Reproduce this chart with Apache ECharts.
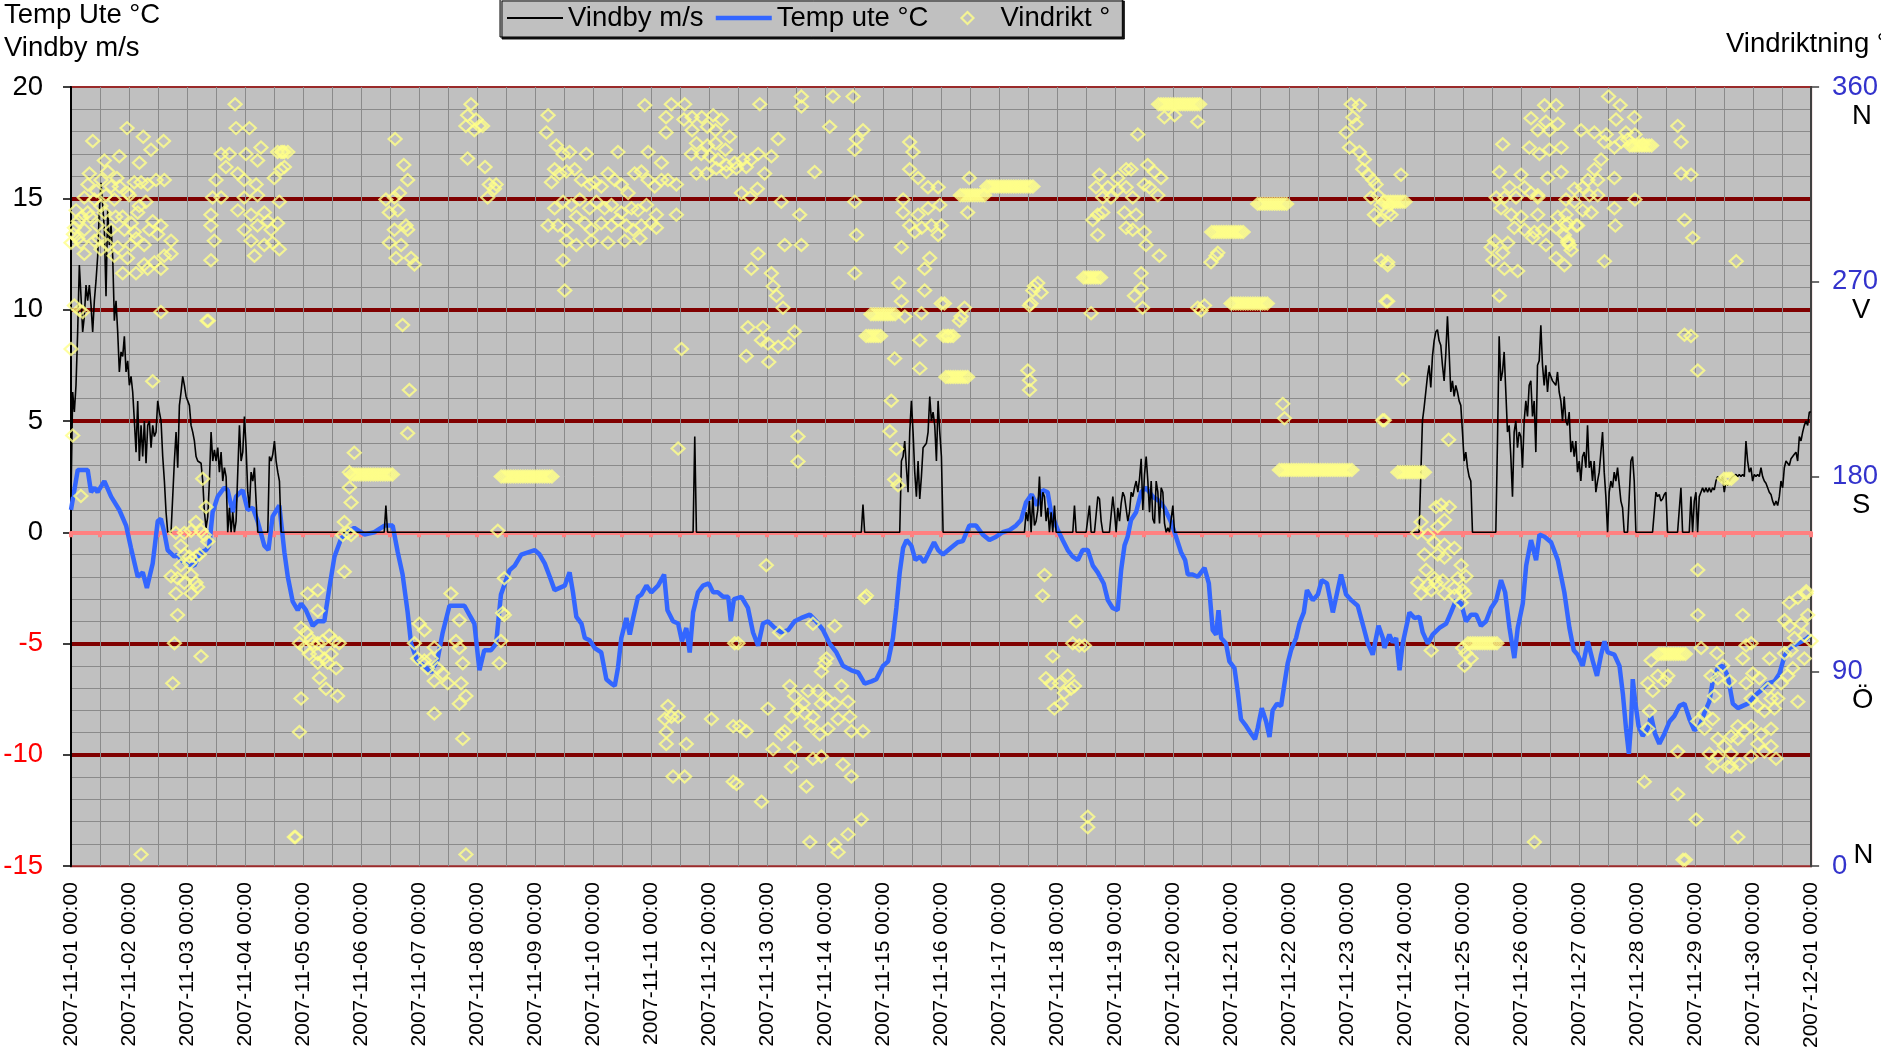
<!DOCTYPE html>
<html>
<head>
<meta charset="utf-8">
<script src="https://cdn.jsdelivr.net/npm/echarts@6/dist/echarts.min.js"></script>
<style>
html,body{margin:0;padding:0;background:#fff;}
#chart{width:1881px;height:1051px;}
</style>
</head>
<body>
<div id="chart"></div>
<script>
// ---- tick labels ----
var dayLabels = ['2007-11-01 00:00','2007-11-02 00:00','2007-11-03 00:00','2007-11-04 00:00','2007-11-05 00:00','2007-11-06 00:00','2007-11-07 00:00','2007-11-08 00:00','2007-11-09 00:00','2007-11-10 00:00','2007-11-11 00:00','2007-11-12 00:00','2007-11-13 00:00','2007-11-14 00:00','2007-11-15 00:00','2007-11-16 00:00','2007-11-17 00:00','2007-11-18 00:00','2007-11-19 00:00','2007-11-20 00:00','2007-11-21 00:00','2007-11-22 00:00','2007-11-23 00:00','2007-11-24 00:00','2007-11-25 00:00','2007-11-26 00:00','2007-11-27 00:00','2007-11-28 00:00','2007-11-29 00:00','2007-11-30 00:00','2007-12-01 00:00'];
var dirTicks = [0, 90, 180, 270, 360];
var dirNames = ['N', 'Ö', 'S', 'V', 'N'];

// ---- Temp ute °C : [hour since 2007-11-01 00:00, value] ----
var tempData = [[0,1.0],[2.8,2.8],[6.9,2.8],[8.3,1.8],[9.7,2.0],[11,1.8],[13.8,2.3],[16.6,1.6],[20,1.0],[22.8,0.3],[24.8,-0.7],[27.6,-2.0],[29.7,-1.8],[31.4,-2.5],[33.8,-1.4],[35.9,0.5],[37.2,0.6],[38.6,0.0],[40,-0.8],[42.8,-1.1],[44,-1.0],[46.9,-1.4],[51,-1.5],[53.8,-0.9],[55.9,-0.8],[57.2,-0.6],[58.6,0.9],[60.7,1.6],[63.4,2.0],[64.8,1.9],[66.9,0.9],[68.3,1.6],[71,1.9],[73.1,1.0],[75.2,1.1],[77.2,0.5],[80,-0.6],[81.7,-0.8],[83.4,0.7],[86.2,1.2],[88.3,-0.9],[89.7,-2.0],[91.7,-3.1],[93.8,-3.5],[95.2,-3.2],[97.2,-3.5],[100,-4.2],[102,-4.0],[104.8,-4.0],[106.9,-2.5],[109,-1.1],[111.7,-0.3],[114.5,0.0],[117.2,0.2],[121.4,-0.1],[125.5,0.0],[129.7,0.3],[133.1,0.3],[135.2,-0.9],[137.2,-1.9],[139.3,-3.6],[140.7,-5.0],[143.4,-5.8],[146.2,-6.0],[149,-6.3],[151.7,-5.7],[153.8,-4.5],[156.6,-3.3],[159.3,-3.3],[162.8,-3.3],[164.8,-3.7],[166.9,-4.1],[169,-6.2],[171,-5.3],[173.8,-5.3],[175.9,-5.0],[177.9,-2.8],
[181.5,-1.7],[183.6,-1.5],[186.3,-1.0],[189.1,-0.9],[191.9,-0.8],[193.9,-1.0],[196,-1.4],[198.1,-2.0],[200.1,-2.6],[202.2,-2.5],[204.3,-2.4],[206.3,-1.8],[207.7,-2.7],[209.1,-3.8],[211.2,-4.1],[212.6,-4.75],[214.6,-4.85],[216.7,-5.2],[219.4,-5.4],[221.5,-6.6],[223.6,-6.8],[225,-6.9],[226.3,-6.1],[227.7,-4.75],[229.8,-3.85],[231.2,-4.6],[232.6,-3.85],[234.6,-2.9],[236,-2.8],[238.1,-2.4],[240.1,-2.7],[242.9,-2.4],[245.4,-1.9],[246.8,-3.5],[249.1,-4.0],[251.2,-4.1],[252.8,-4.9],[254.6,-4.3],[256,-5.4],[257.4,-3.6],[259.4,-2.7],[261.5,-2.4],[263.9,-2.3],[265.7,-2.7],[267.7,-2.7],[269.8,-2.9],[271.9,-2.9],[273,-4.0],[274.3,-3.0],[277.4,-2.9],[280.1,-3.4],[282.2,-4.5],[284.3,-5.1],[286.3,-4.1],[288.4,-4.0],[291.2,-4.3],[293.9,-4.5],[296.7,-4.4],[299.4,-4.0],[302.2,-3.85],[305.7,-3.7],[308.4,-4.0],[311.2,-4.4],[313.9,-5.0],[316.7,-5.4],[319.4,-6.0],[322.9,-6.2],[325.7,-6.3],[328.4,-6.8],[331.2,-6.7],[333.2,-6.6],[336,-6.0],[338.1,-5.8],[340.1,-4.75],[341.5,-3.4],[342.9,-1.8],[344.3,-0.7],[345.7,-0.35],[347.7,-0.6],[349.4,-1.25],[351.2,-1.1],[353,-1.35],[354.6,-1.0],[357.1,-0.45],[358.8,-0.8],[360.8,-1.0],
[364.1,-0.7],[366.9,-0.45],[369,-0.4],[371.7,0.3],[374.5,0.3],[377.2,-0.1],[380,-0.35],[382.8,-0.2],[385.5,0.0],[388.3,0.1],[391,0.3],[393.1,0.55],[395.2,1.35],[397.5,1.7],[399.7,1.2],[402.1,1.9],[404.1,1.8],[405.5,0.9],[408.3,0.1],[410.3,-0.35],[412.4,-0.8],[414.5,-1.1],[416.6,-1.25],[418.6,-0.8],[420.7,-0.8],[422.8,-1.5],[424.8,-1.8],[427.3,-2.3],[429,-3.05],[431,-3.4],[433.1,-3.5],[434.5,-1.7],[435.9,-0.6],[437.2,-0.2],[438.6,0.55],[440.7,0.9],[442.8,1.8],[444.8,2.0],[447.6,1.6],[450.3,1.4],[452.4,1.1],[455.2,0.45],[457.2,-0.2],[459.3,-0.9],[461,-1.25],[462.1,-1.9],[464.1,-1.9],[466.2,-2.0],[469,-1.6],[470.8,-2.3],[472.4,-4.4],[473.8,-4.6],[474.8,-3.5],[475.9,-4.75],[477.9,-5.0],[479.3,-5.8],[481.4,-6.1],[482.8,-7.2],[484.1,-8.4],[486.2,-8.7],[488.3,-9.05],[489.9,-9.3],[491,-8.8],[492.7,-7.9],[494.5,-8.5],[495.9,-9.2],[497.2,-8.0],[499,-7.7],[500.7,-7.8],[502.1,-6.8],[503.4,-5.9],[504.8,-5.3],[506.9,-4.75],[508.3,-4.1],[510.1,-3.6],[511.4,-2.6],[513.8,-3.05],[515.9,-2.8],[517.5,-2.15],[519.7,-2.3],[522.1,-3.6],[523.9,-2.7],[525.5,-1.9],[527.6,-2.8],[529.7,-3.05],[532.4,-3.3],[534.9,-4.3],[536.6,-5.0],[538.6,-5.5],[541,-4.2],[542.8,-4.75],
[543.4,-5.2],[545.5,-4.6],[546.9,-4.95],[548.3,-4.75],[549.7,-6.2],[551,-5.0],[552.4,-4.3],[553.8,-3.6],[555.9,-3.85],[557.9,-3.8],[559.3,-4.5],[561.4,-5.0],[563.4,-4.6],[566.2,-4.3],[569,-4.1],[571,-3.6],[573.1,-3.05],[575.2,-3.2],[577.2,-4.0],[579.3,-3.7],[581.4,-3.7],[583.4,-4.2],[585.5,-4.0],[587.6,-3.4],[589.7,-3.05],[591.7,-2.15],[593.4,-2.7],[595.2,-4.3],[597.2,-5.65],[598.6,-4.3],[600.7,-3.2],[602.1,-1.5],[604.1,-0.35],[606.2,-1.25],[607.6,-0.1],[609.7,-0.2],[612.4,-0.45],[615.2,-1.25],[617.9,-2.7],[620,-4.3],[621.8,-5.3],[623.4,-5.5],[625.5,-6.0],[627.6,-4.9],[629.7,-5.8],[631.4,-6.45],[633.1,-5.5],[634.5,-4.9],[635.9,-5.4],[638.6,-5.5],[640.7,-6.0],[642.1,-7.25],[643.4,-8.8],[644.6,-9.95],[645.5,-8.6],[646.2,-6.6],[647.2,-7.6],[648.6,-8.7],[650.3,-9.15],[652.4,-8.8],[653.8,-8.25],[655.4,-9.05],[657.2,-9.5],[659.3,-9.05],[661.4,-8.5],[663.4,-8.25],[665.5,-7.8],[667.6,-7.7],[669.7,-8.4],[671.7,-8.9],[673.8,-8.7],[675.9,-8.1],[677.9,-7.6],[679.3,-6.7],[681.4,-6.1],[683.4,-6.0],[685.5,-6.45],[687.6,-7.7],[689.7,-7.9],[691.7,-7.8],[693.8,-7.7],[696.6,-7.35],[699.3,-7.1],[701.7,-6.8],[704.8,-6.7],[706.9,-6.35],[709,-5.55],[711,-5.2],[714.5,-5.0],[717.9,-4.8],[720,-4.6]];

// ---- Vindby m/s : runs of readings, each [start hour, values...] sampled every windStep hours ----
var windStep = 0.69;
var windRunA = [0, 1.6,6.3,5.4,6.6,9.0,12.0,10.6,9.0,9.7,11.1,10.4,11.1,10.2,9.0,10.4,11.3,12.4,14.5,15.7,14.7,13.6,10.6,14.5,12.9,13.8,12.4,9.5,10.4,9.0,7.2,8.1,7.9,8.8,7.2,7.7,6.6,7.0,6.3,5.0,3.6,5.9,3.2,4.8,3.4,5.0,3.1,4.8,5.0,3.8,4.8,4.3,4.5,5.9,5.4,5.0,3.4,2.3,0.9,0,0,0,0,3.2,4.5,2.9,5.7,6.3,7.0,6.6,6.1,5.9,5.7,4.8,4.5,4.1,3.4,3.2,3.2,3.1,2.3,0.9,0.2,0.7,2.3,4.5,3.2,3.7,3.2,3.8,2.7,3.6,2.3,2.9,2.5,0,1.1,0,0.9,0,0.5,2.7,4.8,3.2,3.6,5.2,3.8,1.8,1.1,2.7,2.3,2.9,1.4,0,0,0,0,0,0,0,3.4,3.2,3.5,4.1,3.2,2.7,2.3,0];
var windRunB = [129.6, 0,1.2,0];
var windRunC = [257.4, 0,4.3,0];
var windRunD = [327.0, 0,1.25,0];
var windRunE = [342.9, 0,3.2,3.4,4.1,2.9,1.8,4.5,5.9,4.5,2.7,1.6,3.2,1.5,2.5,3.8,3.8,4.0,4.5,6.1,5.0,5.4,4.8,3.2,5.9,4.5,3.4,0];
var windRunF = [394.5, 0,0.9,0.5,1.4,0,1.6,0.3,0.5,1.0,2.5,0.7,1.8,1.6,0.5,1.1,0,0.9,0,1.2,0, 0,0,0,0,0,0,0,0,0,0, 1.2, 0,0,0,0,0,0,0,0, 1.2, 0,0,0,0, 1.6,1.5,0.5, 0,0,0,0,0,0, 1.6,0.9,0,1.1,0.5,1.3,1.8,1.6,1.6,0.5,0.9,1.8,1.6,2.0,2.3,1.8,2.4,3.3,1.0,2.6,3.4,2.3,0.9,2.3,0.6,0.4,2.3,1.8,0.4,2.0,1.8,0.4,0,0.2,0,0,1.2,0];
var windRunG = [557.8, 0,2.5,5.0,5.6,6.3,7.0,7.5,6.5,7.9,8.6,9.0,9.1,8.6,8.4,7.5,6.8,8.0,9.7,8.1,6.3,6.8,6.1,6.6,6.3,5.9,5.7,4.5,3.2,3.6,2.9,2.5,2.3,0, 0,0,0,0,0,0,0,0,0,0,0,0,0,0, 4.1,8.8,6.8,7.2,8.1,6.3,4.5,4.8,3.4,1.6,4.5,5.0,3.8,4.5,4.3,2.9,5.0,5.9,5.2,6.6,6.8,5.2,5.9,3.6,7.5,7.7,9.3,7.5,6.6,7.5,6.3,7.2,7.0,6.8,6.8,6.6,7.2,6.3,5.9,5.0,6.1,5.0,4.8,5.4,3.6,4.1,3.4,4.1,2.7,3.2,2.3,3.4,3.6,2.9,4.8,2.9,3.2,2.3,3.2,1.8,2.3,2.7,3.6,4.5,2.7,1.6,0,1.8,2.3,2.0,2.7,2.3,2.9,2.9,1.4,1.1,0,0,0,1.6,3.2,3.4,2.3,0, 0,0,0,0,0,0,0,0,0,0,0, 1.8,1.6,1.7,1.4,1.5,1.7,1.8,0, 0,0,0,0,0,0,0, 2.0, 0,0,0,0,0, 1.6,0,1.4,1.8,0,1.6,1.8,2.0,1.8,2.0,1.8,2.0,1.8,2.0,1.9,2.3,2.5,2.4,2.3,2.5,1.8,2.3,2.1,2.3,2.4,2.5,2.5,2.6,2.5,2.6,2.5,2.6,2.5,4.1,3.2,2.7,2.9,2.3,2.6,2.5,2.6,2.5,2.9,2.5,2.3,2.2,2.0,1.8,1.7,1.4,1.2,1.4,1.2,1.6,2.3,2.0,2.9,3.2,3.1,3.0,3.3,3.4,3.5,3.6,3.2,4.3,4.1,4.5,4.8,5.0,4.8,5.4,5.4];
var windRuns = [windRunA, windRunB, windRunC, windRunD, windRunE, windRunF, windRunG];

// ---- Vindrikt ° : [hour, degrees] ----
var dirData = [
[9.0,335],[23.2,341],[29.9,337],[38.3,335],[33.1,331],[13.8,326],[20,328],[28.3,325],[7.6,320],[15.2,321],[12.4,317],[16.6,314],[20,314],[23.4,311],[26.2,316],[29,316],[31.7,315],[35.2,317],[38.6,317],[5.5,309],[9.7,308],[12.4,305],[17.9,308],[24.1,310],[28.3,305],[31,307],[2.1,303],[6.9,302],[13.8,302],[21.4,300],[27.6,302],[33.8,298],[37.2,296],[1.4,295],[5.5,294],[11,296],[16.6,294],[22.1,294],[26.2,293],[32.4,294],[35.9,292],[0,288],[4.1,288],[9.7,289],[15.2,287],[19.3,286],[24.8,287],[30.3,287],[41.4,289],[5.5,283],[12.4,285],[17.9,282],[23.4,281],[30.3,278],[34.5,279],[38.6,282],[41.4,283],[21.4,274],[26.9,274],[31.7,276],[37.2,276],[1.4,259],[3.4,257],[4.8,256],[0,239],[37.2,256],[0.7,199],[4.1,171],[33.8,224],
[8,300],[10.5,312],[14.5,310],[18.5,300],[3,298],[7,315],[11.5,290],[19,318],[25,297],[27,290],[1,292],[2.8,290],[4.5,300],
[67.9,352],[68.3,341],[73.8,341],[78.6,332],[62.1,329],[65.5,329],[72.4,329],[77.2,326],[85.5,330],[86.9,330],[87.6,330],[88.3,330],[89.7,330],[64.1,323],[60,317],[69,320],[71.7,317],[76.6,315],[84.1,318],[58.6,309],[62.1,309],[71.7,309],[77.2,310],[86.2,307],[57.9,301],[69,303],[74.5,301],[80,302],[81.4,298],[57.9,296],[71.7,294],[77.2,296],[82.8,294],[85.5,297],[59.3,289],[74.5,289],[80,287],[83.4,288],[86.2,285],[75.9,282],[57.9,280],[88.3,323],[86.9,322],[56.3,252],[56.8,252],
[134.1,336],[137.7,324],[139.3,317],[130.3,308],[133.8,309],[135.9,311],[131.7,302],[135.2,303],[138.6,296],[133.8,294],[131.7,288],[136.6,287],[139.3,294],[134.5,281],[140.7,281],[142.1,278],[137.2,250],[140,220],[139.3,200],
[165.5,352],[164.1,347],[167.6,345],[169,342],[163.4,342],[166.9,340],[170.3,342],[164.1,327],[171.3,323],[173.1,315],[175.9,315],[172.4,309],[175.2,313],
[43.4,154],[46.9,154],[49.7,155],[51.7,159],[53.8,155],[45.5,148],[46.9,144],[49,143],[51.7,143],[53.1,144],[45.5,139],[49,140],[41.4,134],[44.1,133],[46.9,131],[49.7,134.5],[51.7,131],[43.4,126],[49.7,126],[52.4,129],[44.1,116],[42.8,103],[53.8,97],[42.1,84.5],[54.5,179],[55.9,166],[55.2,153],[56.6,150],
[117.2,191],[115.2,182],[115.2,175],[115.9,168],[113.1,159],[114.5,154],[112.4,153],[115.9,153],[113.1,136],
[116,181],[117,181],[118,181],[119,181],[120,181],[121,181],[122,181],[123,181],[124,181],[125,181],[126,181],[127,181],[128,181],[129,181],[130,181],[131,181],[132,181],[133,181],
[97.9,126],[102.1,127.5],[95.2,110],[97.2,108],[99.3,105],[96.6,101],[100,103],[102.1,103],[104.1,104],[106.9,106.6],[109,104],[111,103],[98.6,98],[102.1,98],[104.8,96],[107.6,98],[102.1,94],[106.2,94],[109.7,91.5],[102.8,87],[105.5,82],[110.3,78.6],[95.2,77.5],[94.5,62],[102.1,118],[94.5,103],[92.4,13.5],[92.9,13.5],[29,5.4],[163.4,5.4],
[144.1,112],[146.2,109],[142.1,103],[143.4,96],[146.2,95],[149,96],[150.3,101],[147.6,91.5],[151.7,91.5],[153.8,89],[150.3,85.6],[155.9,84.5],[157.2,126],[160.7,113.6],[159.3,104],[160.7,100.8],[162.1,93.8],[161.4,84.5],[163.4,78.6],[160.7,75],[150.3,70.5],[162.1,58.9],[176.6,155],[177.2,93.8],[177.9,104],[178.6,117],[179.3,133],[179.3,116],
[178,180],[179,180],[180,180],[181,180],[182,180],[183,180],[184,180],[185,180],[186,180],[187,180],[188,180],[189,180],[190,180],[191,180],[192,180],[193,180],[194,180],[195,180],[196,180],[197,180],[198,180],[199,180],
[197.4,347],[196.7,339],[200.8,333],[203.6,329],[206.3,330],[213.2,329],[226.3,330],[238.8,330],[244.3,325],[200.1,322],[198.8,316],[202.2,320],[205,321],[208.4,322],[211.2,317],[214.6,315],[216.7,316],[219.4,314],[222.2,320],[225,317],[227.7,315],[230.5,311],[233.2,320],[236,321],[238.8,317],[241.5,314],[244.3,317],[247,317],[250.5,315],[200.1,304],[203.6,307],[207,305.5],[210.5,308],[214.6,304],[217.4,307],[220.8,304],[223.6,305.5],[227.7,302],[231.9,304],[234.6,303],[238.1,305.5],[242.2,301],[250.5,301],[197.4,296],[201.5,296],[205,294],[209.1,300],[212.6,297],[215.3,294],[219.4,297],[223.6,296],[226.3,298.5],[229.8,296],[232.6,294],[236,296],[240.1,297],[242.2,295],[205,289],[209.1,287],[215.3,289],[222.2,288],[229.1,289],[235.4,290],[203.6,280],[204.3,266],[252.6,239],[251.2,193],
[237.4,351.6],[248.4,352],[253.9,352],[246.2,346],[253.6,345],[257,346],[261,346],[265.7,347],[269.1,345],[246.2,339],[257,340],[263.3,341.6],[266.7,340],[272.5,337],[258.8,334],[263.3,333],[266.7,334],[270.8,331],[256.7,329],[260.8,329],[264.3,328],[267.7,326.5],[271.2,324],[274.6,325],[278.1,326.5],[281.5,326.5],[258.8,320],[263,320],[267,322.5],[271.2,320.7],[275.3,322.5],[279.4,323],[284.3,329],[285,352],[289.8,328],[292.6,336],[287,320],[277.4,311],[281,309],[284,313],[293.9,307],[302.2,355.6],[315.3,355.6],[323.6,355.6],[302.2,351],[313.9,341.6],[327.7,340],[325,336],[324.3,331],[307.7,320.7],[301.5,301],[295.3,287],[302.2,287],[324.3,307],[325,291.6],[324.3,274],[284.3,283],[281.5,276],[289.8,274],[290.5,268],[291.9,263.5],[294.6,258],[280.1,249],[286.3,249],[288.4,241.5],[285.7,243],[279.4,235.7],[288.7,233],[292.6,240],[296.7,241.5],[299.4,247],[300.8,198.5],[300.8,187],[287.7,139],[274.6,103],[276,103],[293.2,108],[307,112],[316,111],[328.4,124],[329.1,125],
[347,334.6],[348.4,330],[347,322],[350.5,318],[354.6,313.7],[358.8,313.7],[344.3,308],[350.5,301],[354.6,304],[359.5,305.5],[344.3,302],[347,296],[352,295],[356,296],[360.1,296],[349.1,293],[358.8,291.6],[343.6,286],[355.3,281],[353.2,276],[342.5,269.5],[353.2,266],[343.6,261],[360.1,260],[345,254],[351.9,255.5],[351.2,243],[340.8,234.6],[351.2,230],[339.4,215],[338.8,201],[341.5,192.7],[340.8,178.7],[342.2,176],
[331,255],[332,255],[333,255],[334,255],[335,255],[336,255],[337,255],[338,255],[339,255],[340,255],[341,255],
[329,245],[330,245],[331,245],[332,245],[333,245],[334,245],[335,245],
[361,245],[362,245],[363,245],[364,245],[365,245],
[362,226],[363,226],[364,226],[365,226],[366,226],[367,226],[368,226],[369,226],[370,226],[371,226],
[247,74],[245.7,68],[248.4,69],[251.2,69],[246.3,62],[254.6,56.5],[246.3,56.5],[249.1,41.4],[253.9,41.4],[265,68],[274,64.7],[276.7,64.7],[279.4,62.4],[274,39],[275.4,38],[285.7,29.8],[288.4,72.8],[290.5,54],[294,61],[295.3,62.4],[297.4,83.3],[299.4,78.6],[298.1,69],[300.8,72.8],[299.4,55],[298.1,46],[302.9,75],[305,81],[309.1,81],[303.6,70.5],[307,69],[310.5,75],[312.6,77.5],[316,75],[318.8,83.3],[321.5,76],[304.3,36.8],[306.3,64.7],[309.8,61],[313.2,63.5],[317.4,68],[322.2,69],[322.9,62.4],[327.7,62.4],[310.5,50.7],[307,49.6],[319.4,47],[322.9,41.4],[311.9,93.8],[312.6,96],[310.5,90],[327,21.6],[321.5,14.7],[305.7,11.2],[317.4,6.5],[316,10],
[371.7,318],[371,302],[369.7,258],[368.3,254],[367.6,252],[362.8,245],[361.4,260],
[395.9,229],[396.6,224.5],[396.6,220],[398,266],[398.6,268],[400,269.5],[401.4,265],[397.2,260],[396.6,259],
[402.8,134.5],[402,125],[415.9,113],[417.2,102],[419.3,102],[406.2,97],[414.5,103],[403.4,86.8],[405.5,84.5],[409,84.5],[412.4,88],[413.8,82],[411,80],[406.9,72.8],[409.7,75],[415.2,83.3],[420.7,22.8],[420.7,18],
[422.1,255.5],
[425.5,319.5],[424.1,313.7],[433.1,318],[436.6,322],[438.6,322],[441.4,338],[445.5,324],[448.3,320.7],[451,318],[429,313.7],[426.9,309],[430.3,309],[433.1,312.5],[436.6,313.7],[439.3,309],[444.1,315],[449.7,310],[424.8,301],[426.9,302],[435.9,302],[440.7,301],[422.8,298.5],[424.8,291.6],[436.6,295],[439.3,294],[444.1,293],[444.8,287],[450.3,282],[442.8,274],[442.8,267],[440,263.6],[443.4,258],[446.2,313.7],
[452.4,346],[456.6,347],[466.2,344],
[471.7,279],[473.8,282],[474.5,283.4],
[466.2,258],[469,259],[467.6,256.7],
[501.4,213.6],[502.1,207],
[368,310],[369,310],[370,310],[371,310],[372,310],[373,310],[374,310],[375,310],[376,310],[377,310],[378,310],
[379,314],[380,314],[381,314],[382,314],[383,314],[384,314],[385,314],[386,314],[387,314],[388,314],[389,314],[390,314],[391,314],[392,314],[393,314],[394,314],[395,314],[396,314],[397,314],[398,314],
[419,272],[420,272],[421,272],[422,272],[423,272],[424,272],[425,272],[426,272],
[450,352],[451,352],[452,352],[453,352],[454,352],[455,352],[456,352],[457,352],[458,352],[459,352],[460,352],[461,352],[462,352],[463,352],[464,352],[465,352],[466,352],[467,352],
[472,293],[473,293],[474,293],[475,293],[476,293],[477,293],[478,293],[479,293],[480,293],[481,293],[482,293],[483,293],[484,293],[485,293],
[480,260],[481,260],[482,260],[483,260],[484,260],[485,260],[486,260],[487,260],[488,260],[489,260],[490,260],[491,260],[492,260],[493,260],[494,260],[495,260],
[491,306],[492,306],[493,306],[494,306],[495,306],[496,306],[497,306],[498,306],[499,306],[500,306],[501,306],[502,306],[503,306],
[500,183],[501,183],[502,183],[503,183],[504,183],[505,183],[506,183],[507,183],[508,183],[509,183],[510,183],[511,183],[512,183],[513,183],[514,183],[515,183],[516,183],[517,183],[518,183],[519,183],[520,183],[521,183],[522,183],[523,183],[524,183],[525,183],[526,183],[527,183],[528,183],[529,183],[530,183],
[529.7,352],[533.1,351.6],[530.4,346],[531.7,342.8],[527.6,339],[529,332],[533.1,330],[535.2,326.5],[534.5,322],[536.6,319.5],[538.6,317],[540,315],[537.9,309],[540.7,310],[542.1,305.5],[539.3,301],[541.4,298.5],[545.5,305.5],[546.2,301],[542.1,280],[544.8,277.6],[544.1,261],[543.4,206],
[544.8,302],[544.8,279],[544.8,261],[550.3,319.5],[551,225],[542.7,206],[570,197],
[543,307],[544,307],[545,307],[546,307],[547,307],[548,307],[549,307],[550,307],[551,307],[552,307],
[549,182],[550,182],[551,182],[552,182],[553,182],[554,182],[555,182],[556,182],[557,182],[558,182],[559,182],[560,182],
[609.7,351.6],[614.5,351.6],[604.1,345.6],[610.3,344],[615.2,343],[606.9,340],[611.7,340],[592.4,333.5],[603.4,332],[607.6,329],[611.7,331],[616.6,332],[591,320.7],[600,319.5],[611,318],[616.6,320.7],[595.2,313.7],[601.4,313.7],[604.1,311],[606.9,310],[589.7,309],[593.1,309],[597.9,309],[606.9,309],[591.7,304],[595.9,301],[600,300],[606.9,301],[615.2,300],[618.6,301],[597.2,295],[601.4,294],[605.5,293],[609,294],[614.5,295],[618.6,296],[622.8,296],[589,289],[594.5,288],[604.8,290.4],[610.3,287],[619.3,289],[587.6,286],[592.4,283.4],[588.3,280],[593.1,276],[598.6,275],[614.5,281],[617.9,277.6],[591,263.6],[620.7,284.6],[620,287],
[636.2,355.6],[641,351.6],[646.9,346],[624.8,340],[630.3,339],[635.2,338],[639.3,345],[643.4,339],[647.1,338],[650.3,333.5],[634.5,334.6],[638.6,332],[641.4,334.6],[644.1,335.7],[633.1,326.5],[630.3,322],[627.6,317],[631.7,317],[638.6,318],[622.1,313],[625.5,313.7],[628.3,310],[618.6,308],[622.1,307],[631.7,310],[647.1,308],[625.5,303],[629,302],[638.6,304],[619.3,297],[623.4,296],[639,296],[617.9,291.6],[619.3,288],[634.5,279.5],
[645,333],[646,333],[647,333],[648,333],[649,333],[650,333],[651,333],[652,333],[653,333],[654,333],
[664.8,342],[666.2,334.6],[666.2,320],[670.3,319.5],[667.6,298.5],[671,290.4],[689,279.5],[667.6,245.5],[670.3,245],[673.1,229],
[558.6,159],[557.2,154],[564.8,166],[566.9,167],[570.3,166],[568.3,160],[565.5,157],[561.4,153],[564.1,149.6],[568.3,148.5],[572.4,147],[560,144],[565.5,144],[568.3,142.6],[575.2,139],[560.7,136.8],[564.1,133],[573.8,133],[577.2,134],[557.2,131],[561.4,130],[564.8,131],[567.6,132],[572.4,128.7],[575.8,127.5],[558.6,126],[562.8,127.5],[568.3,126],[572.4,125],[576.6,126],[575.2,121.7],[562.8,99.6],[577.2,98.4],[579.3,96],[576.6,92.6],[575.8,100.8],
[578,103],[579,103],[580,103],[581,103],[582,103],[583,103],[584,103],[585,103],[586,103],[587,103],[588,103],[589,103],[590,103],
[673.1,136.8],[673.1,116],[691.7,116],
[653.8,95],[656.6,88],[659.3,85.6],[660.7,88],[652.4,84.5],[654.5,81],[653.1,71.7],[652.4,63.5],[651,39],[664.8,53],[664.8,33.2],[672.4,21.6],[689.7,13.5],[605.5,11.2],
[657,98],[658,98],[659,98],[660,98],[661,98],[662,98],[663,98],[664,98],[665,98],[666,98],[667,98],[668,98],
[667,3],[668,3],
[674.5,100.8],[681,98.4],[683.4,92.6],[681.4,86.8],[678.6,88],[686.2,85.6],[680,78.6],[675.9,70.5],[673.1,67],[679.3,68],[675.9,63.5],[681.4,58.9],[684.1,55.4],[686.9,60],[689.7,58.9],[692.4,62.4],[695.2,64.7],[699.3,61],[703.4,63.5],[704.8,72.8],[706.2,77.5],[703.4,77.5],[700.7,71.7],[697.9,74],[695.2,77.5],[693.1,84.5],[695.9,89],[698.6,86.8],[702.1,82],[707.6,84.5],[710.3,88],[712.4,91.5],[691.7,96],[693.1,102],[695.2,103],[702.8,96],[709,98.4],[714.5,76],[713.1,105.4],[711,111],[709,113.6],[711,121.7],[714.5,124],[717.9,126],[718.6,116],[720,104],[717.2,96],[718,127],[715.9,112],[717.2,106.6],[711.7,99.6],
[681.4,50.7],[686.9,52],[690.4,47],[695.2,50.7],[700.7,53],[705.5,49.6],[677.9,52],[685.5,46],[679.3,46],[697.9,56.5],[703.4,55.4],[689.7,64.7],[686.9,46],
[684,179],[685,179],[686,179],[687,179]
];

// ---- build wind series data from the runs ----
var windData = [];
windRuns.forEach(function (run) {
  var t0 = run[0];
  for (var i = 1; i < run.length; i++) {
    windData.push([t0 + (i - 1) * windStep, run[i]]);
  }
});

var FONT = '"Liberation Sans", Arial, sans-serif';
var FS = 27.5;
var chart = echarts.init(document.getElementById('chart'), null, {renderer: 'canvas'});

chart.setOption({
  animation: false,
  backgroundColor: '#ffffff',
  textStyle: {fontFamily: FONT},
  title: [
    {text: 'Temp Ute °C\nVindby m/s', left: 4, top: -1, padding: 0,
     textStyle: {fontSize: FS, fontWeight: 'normal', color: '#000', lineHeight: 33, fontFamily: FONT}},
    {text: 'Vindriktning °', left: 1726, top: 28, padding: 0,
     textStyle: {fontSize: FS, fontWeight: 'normal', color: '#000', lineHeight: 32, fontFamily: FONT}}
  ],
  legend: {
    left: 500, top: -1,
    padding: [5, 12, 5, 6],
    itemGap: 10, itemWidth: 56, itemHeight: 13,
    symbolKeepAspect: true,
    backgroundColor: '#c0c0c0', borderColor: '#000', borderWidth: 1,
    shadowColor: 'rgba(0,0,0,0.9)', shadowOffsetX: 2, shadowOffsetY: 2, shadowBlur: 0,
    textStyle: {fontSize: FS, color: '#000', fontFamily: FONT},
    data: [
      {name: 'Vindby m/s', itemStyle: {opacity: 0}, lineStyle: {width: 2, color: '#000000'}},
      {name: 'Temp ute °C', itemStyle: {opacity: 0}, lineStyle: {width: 4.5, color: '#3366ff'}},
      {name: 'Vindrikt °', icon: 'path://M-22,6 L-22,6 M6,0 L12,6 L6,12 L0,6 Z M34,6 L34,6',
       itemStyle: {color: 'rgba(0,0,0,0)', borderColor: '#ffff88', borderWidth: 2.2}}
    ]
  },
  grid: {
    left: 71, right: 69, top: 87, bottom: 184,
    show: true, backgroundColor: '#c0c0c0',
    borderColor: '#9a2a2a', borderWidth: 2
  },
  xAxis: [
    {
      type: 'value', min: 0, max: 720, interval: 24, position: 'bottom',
      axisLine: {show: false, onZero: false},
      axisTick: {show: false},
      axisLabel: {
        rotate: 90, fontSize: 21, margin: 16, color: '#000', fontFamily: FONT,
        formatter: function (v) { return dayLabels[Math.round(v / 24)]; }
      },
      splitLine: {show: true, lineStyle: {color: '#8a8a8a', width: 1}},
      minorTick: {show: false, splitNumber: 2},
      minorSplitLine: {show: true, lineStyle: {color: '#8a8a8a', width: 1}},
      z: 0
    },
    {
      type: 'value', min: 0, max: 720, interval: 12, position: 'top',
      axisLine: {show: true, onZero: true, onZeroAxisIndex: 0, lineStyle: {color: '#ff8080', width: 4}},
      axisTick: {show: true, inside: true, length: 5, lineStyle: {color: '#ff8080', width: 4}},
      axisLabel: {show: false},
      splitLine: {show: false},
      z: 1
    }
  ],
  yAxis: [
    {
      type: 'value', min: -15, max: 20, interval: 5, position: 'left',
      axisLine: {show: true, onZero: false, lineStyle: {color: '#000', width: 2}},
      axisTick: {show: true, length: 8, lineStyle: {color: '#000', width: 1.5}},
      axisLabel: {
        fontSize: FS, margin: 28, fontFamily: FONT,
        color: function (v) { return Number(v) < 0 ? '#ff0000' : '#000000'; }
      },
      splitLine: {show: true, showMinLine: false, showMaxLine: false, lineStyle: {color: '#800000', width: 4}},
      minorTick: {show: false, splitNumber: 5},
      minorSplitLine: {show: true, lineStyle: {color: '#8a8a8a', width: 1}},
      z: 0
    },
    {
      type: 'value', min: 0, max: 360, interval: 90, position: 'right',
      axisLine: {show: true, onZero: false, lineStyle: {color: '#404040', width: 2}},
      axisTick: {show: true, length: 8, lineStyle: {color: '#404040', width: 1.5}},
      splitLine: {show: false},
      axisLabel: {
        margin: 21, fontFamily: FONT,
        formatter: function (v) {
          var i = dirTicks.indexOf(Number(v));
          var name = dirNames[i];
          if (Number(v) === 0) { return '{n|0}{u|' + name + '}'; }
          return '{b| }\n{n|' + v + '}\n{d|' + name + '}';
        },
        rich: {
          n: {fontSize: FS, color: '#3333cc', lineHeight: 29, fontFamily: FONT},
          d: {fontSize: FS, color: '#000', lineHeight: 29, padding: [0, 0, 0, 20], fontFamily: FONT},
          b: {fontSize: FS, lineHeight: 29, fontFamily: FONT},
          u: {fontSize: FS, color: '#000', padding: [0, 0, 22, 6], fontFamily: FONT}
        }
      },
      z: 0
    }
  ],
  series: [
    {
      name: 'Vindby m/s', type: 'line', xAxisIndex: 0, yAxisIndex: 0,
      data: windData, showSymbol: false, symbol: 'none',
      lineStyle: {color: '#000000', width: 1.6}, itemStyle: {color: '#000000'},
      z: 4
    },
    {
      name: 'Temp ute °C', type: 'line', xAxisIndex: 0, yAxisIndex: 0,
      data: tempData, showSymbol: false, symbol: 'none',
      lineStyle: {color: '#3366ff', width: 4.5}, itemStyle: {color: '#3366ff'},
      z: 3
    },
    {
      name: 'Vindrikt °', type: 'scatter', xAxisIndex: 0, yAxisIndex: 1,
      data: dirData, symbol: 'diamond', symbolSize: [13, 12],
      itemStyle: {color: 'rgba(0,0,0,0)', borderColor: '#ffff88', borderWidth: 2.2},
      z: 5
    }
  ]
});
</script>
</body>
</html>
